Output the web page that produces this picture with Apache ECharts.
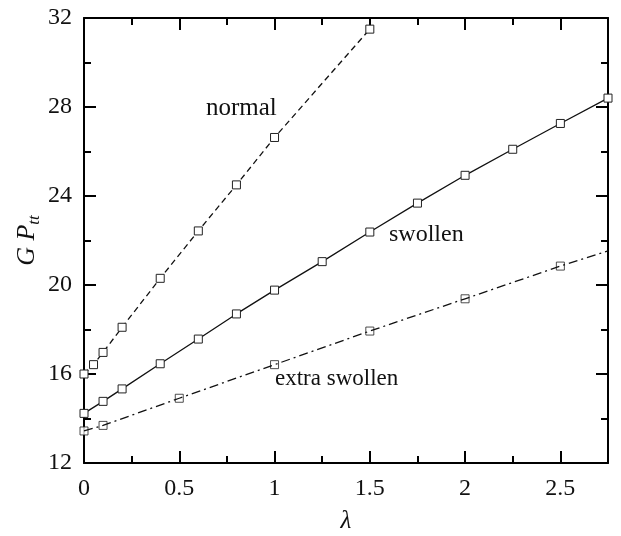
<!DOCTYPE html>
<html>
<head>
<meta charset="utf-8">
<script src="https://cdn.jsdelivr.net/npm/echarts@6/dist/echarts.min.js"></script>
<style>html,body{margin:0;padding:0;background:#fff}#c{width:621px;height:536px}</style>
</head>
<body>
<div id="c"></div>
<script>
const normalX = [0, 0.05, 0.1, 0.2, 0.4, 0.6, 0.8, 1.0, 1.5];
const normalY = [16.0, 16.42, 16.97, 18.1, 20.3, 22.43, 24.5, 26.63, 31.5];
const swollenX = [0, 0.1, 0.2, 0.4, 0.6, 0.8, 1.0, 1.25, 1.5, 1.75, 2.0, 2.25, 2.5, 2.75];
const swollenY = [14.23, 14.77, 15.33, 16.46, 17.57, 18.7, 19.77, 21.05, 22.38, 23.68, 24.93, 26.1, 27.26, 28.4];
const extraX = [0, 0.1, 0.5, 1.0, 1.5, 2.0, 2.5];
const extraY = [13.44, 13.69, 14.91, 16.42, 17.93, 19.38, 20.85];
const extraLineEndX = 2.75, extraLineEndY = 21.53;
const xTicks = [0, 0.5, 1, 1.5, 2, 2.5];
const yTicks = [12, 16, 20, 24, 28, 32];

const FONT = 'Liberation Serif';
const pairs = (xs, ys) => xs.map((x, i) => [x, ys[i]]);
const sym = {symbol: 'rect', symbolSize: 8, itemStyle: {color: '#fff', borderColor: '#222', borderWidth: 1}};

const chart = echarts.init(document.getElementById('c'));
function ax(extra, tickLen, showLine) {
  return Object.assign({
    type: 'value',
    axisLine: {show: showLine, onZero: false, lineStyle: {color: '#000', width: 2}},
    axisTick: {show: true, inside: true, length: tickLen, lineStyle: {color: '#000', width: 2}},
    minorTick: {show: false},
    splitLine: {show: false},
    axisLabel: {show: false}
  }, extra);
}
const xr = {min: 0, max: 2.75};
const yr = {min: 12, max: 32};
chart.setOption({
  animation: false,
  grid: {left: 84, top: 18, right: 13, bottom: 73, containLabel: false, outerBoundsMode: 'none'},
  xAxis: [
    ax(Object.assign({interval: 0.5, position: 'bottom',
      name: 'λ', nameLocation: 'middle', nameGap: 46, nameMoveOverlap: false,
      nameTextStyle: {fontFamily: FONT, fontStyle: 'italic', fontSize: 25, color: '#111'},
      axisLabel: {show: true, fontFamily: FONT, fontSize: 24, color: '#111', margin: 14,
        formatter: v => xTicks.includes(v) ? String(v) : ''}
    }, xr), 12, true),
    ax(Object.assign({interval: 0.25, position: 'bottom'}, xr), 7, false),
    ax(Object.assign({interval: 0.5, position: 'top'}, xr), 12, true),
    ax(Object.assign({interval: 0.25, position: 'top'}, xr), 7, false)
  ],
  yAxis: [
    ax(Object.assign({interval: 4, position: 'left',
      name: '{i|G P}{s|tt}', nameLocation: 'middle', nameGap: 41, nameRotate: 90, nameMoveOverlap: false,
      nameTextStyle: {fontFamily: FONT, fontSize: 26, color: '#111',
        rich: {i: {fontFamily: FONT, fontStyle: 'italic', fontSize: 26, color: '#111'},
               s: {fontFamily: FONT, fontStyle: 'italic', fontSize: 17, color: '#111', padding: [14, 0, 0, 0]}}},
      axisLabel: {show: true, fontFamily: FONT, fontSize: 24, color: '#111', margin: 12,
        formatter: v => yTicks.includes(v) ? String(v) : ''}
    }, yr), 12, true),
    ax(Object.assign({interval: 2, position: 'left'}, yr), 7, false),
    ax(Object.assign({interval: 4, position: 'right'}, yr), 12, true),
    ax(Object.assign({interval: 2, position: 'right'}, yr), 7, false)
  ],
  series: [
    Object.assign({type: 'line', name: 'normal', data: pairs(normalX, normalY),
      lineStyle: {color: '#111', width: 1.3, type: [6, 4]}}, sym),
    Object.assign({type: 'line', name: 'swollen', data: pairs(swollenX, swollenY),
      lineStyle: {color: '#111', width: 1.3, type: 'solid'}}, sym),
    {type: 'line', name: 'extra line', data: pairs(extraX.concat([extraLineEndX]), extraY.concat([extraLineEndY])),
      showSymbol: false, symbol: 'none',
      lineStyle: {color: '#111', width: 1.3, type: [9, 4, 2, 4]}},
    Object.assign({type: 'scatter', name: 'extra swollen', data: pairs(extraX, extraY)}, sym)
  ],
  graphic: [
    {type: 'text', left: 206, top: 96, style: {text: 'normal', font: '25px "' + FONT + '"', fill: '#111'}},
    {type: 'text', left: 389, top: 223, style: {text: 'swollen', font: '24px "' + FONT + '"', fill: '#111'}},
    {type: 'text', left: 275, top: 367, style: {text: 'extra swollen', font: '23px "' + FONT + '"', fill: '#111'}}
  ]
});
</script>
</body>
</html>
